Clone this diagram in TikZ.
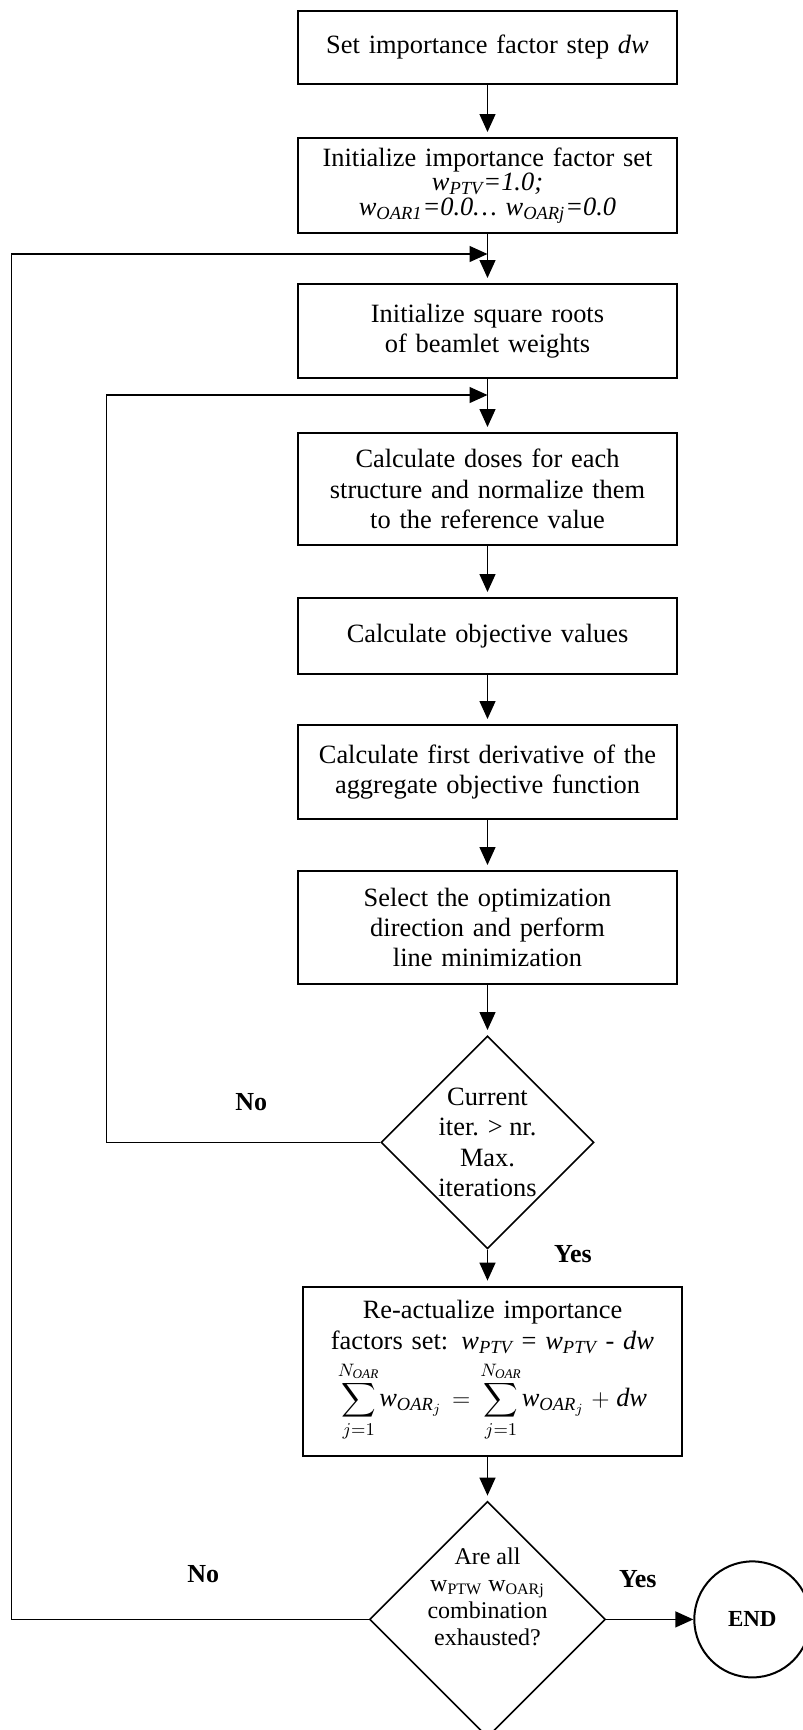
\documentclass[tikz,border=0pt]{standalone}
\usepackage{amsmath}
\usepackage{fontspec}
\setmainfont{Liberation Serif}
\usetikzlibrary{positioning,shapes,arrows.meta}
\tikzstyle{process}=[
	rectangle,
	draw=black,
	line width=1pt,
	text centered,
	align=center,
	text width=180pt,
	minimum width=189.5pt,
	inner sep=2pt,
	font=\fontsize{13.2}{15.2}\selectfont]
\tikzstyle{decision}=[
	diamond,
	draw=black,
	line width=0.8pt,
	aspect=1,
	inner sep=0pt]
\tikzstyle{qtext}=[
	align=center,
	inner sep=0pt,
	font=\fontsize{13.2}{15.2}\selectfont]
\tikzstyle{terminal}=[
	circle,
	draw=black,
	line width=1pt,
	minimum size=58pt,
	inner sep=0pt,
	font=\bfseries\fontsize{11.5}{13}\selectfont]
\tikzstyle{flow}=[line width=0.7pt,-{Triangle[width=8pt,length=9pt]}]
\tikzstyle{lbl}=[font=\bfseries\fontsize{13}{15}\selectfont]

\begin{document}
\begin{tikzpicture}[node distance=25pt]

		\useasboundingbox (0,0) rectangle (401.5pt,-865pt);

		\node (SetStep) [process, minimum height=36.5pt, anchor=north] at (243.75pt,-5pt) {
				Set importance factor step \textit{dw}
		};

		\node (InitFactors) [process, minimum height=47.5pt, below=26pt of SetStep] {
				Initialize importance factor set\\[-3pt]
				\textit{w\textsubscript{PTV}=1.0;}\\[-3pt]
				\textit{w\textsubscript{OAR1}=0.0\ldots\ w\textsubscript{OARj}=0.0}
		};

		\node (InitRoots) [process, minimum height=47pt, below=24.5pt of InitFactors] {
				Initialize square roots\\ of beamlet weights
		};

		\node (CalcDoses) [process, minimum height=56pt, below=26.5pt of InitRoots] {
				Calculate doses for each\\ structure and normalize them\\ to the reference value
		};

		\node (CalcObjective) [process, minimum height=38pt, below=25.5pt of CalcDoses] {
				Calculate objective values
		};

		\node (CalcDerivative) [process, minimum height=47pt, below=24.5pt of CalcObjective] {
				Calculate first derivative of the\\ aggregate objective function
		};

		\node (LineMin) [process, minimum height=56.5pt, below=25pt of CalcDerivative] {
				Select the optimization\\ direction and perform\\ line minimization
		};

		\node (MaxIter) [decision, minimum size=106.5pt, below=25pt of LineMin] {};
		\node (MaxIterText) [qtext] at (MaxIter.center) {
				Current\\ iter. > nr.\\ Max.\\ iterations
		};

		\node (Reactualize) [process, minimum height=84.5pt, below=18pt of MaxIter, xshift=2.5pt] {
				Re-actualize importance\\
				factors set: \textit{w\textsubscript{PTV}} = \textit{w\textsubscript{PTV}} - \textit{dw}\\[3pt]
				$\displaystyle\sum_{j=1}^{N_{\textit{OAR}}}\!\textit{w}_{\textit{OAR}_j}=\sum_{j=1}^{N_{\textit{OAR}}}\!\textit{w}_{\textit{OAR}_j}+\textit{dw}$
		};

		\node (AllExhausted) [decision, minimum size=118pt, below=22pt of Reactualize, xshift=-2.5pt] {};
		\node (AllExhaustedText) [qtext, font=\fontsize{12}{13.5}\selectfont] at ([yshift=11.5pt]AllExhausted.center) {
				Are all\\ w\textsubscript{PTW} w\textsubscript{OARj}\\ combination\\ exhausted?
		};

		\node (End) [terminal, right=43.5pt of AllExhausted] {END};

		\coordinate (LoopOuter) at ([yshift=-10pt]InitFactors.south);
		\coordinate (LoopInner) at ([yshift=-8pt]InitRoots.south);

		\draw[flow, shorten >=2.5pt] (SetStep) -- (InitFactors);
		\draw[flow, shorten >=2.5pt] (InitFactors) -- (InitRoots);
		\draw[flow, shorten >=2.5pt] (InitRoots) -- (CalcDoses);
		\draw[flow, shorten >=2.5pt] (CalcDoses) -- (CalcObjective);
		\draw[flow, shorten >=2.5pt] (CalcObjective) -- (CalcDerivative);
		\draw[flow, shorten >=2.5pt] (CalcDerivative) -- (LineMin);
		\draw[flow, shorten >=2.5pt] (LineMin) -- (MaxIter);
		\draw[flow, shorten >=2.5pt] (MaxIter.south) -- (MaxIter.south |- Reactualize.north);
		\draw[flow, shorten >=2.5pt] (Reactualize.south -| AllExhausted.north) -- (AllExhausted.north);
		\draw[flow] (AllExhausted) -- (End);

		\draw[flow] (MaxIter.west) -- ++(-137pt,0) |- (LoopInner);
		\draw[flow] (AllExhausted.west) -- ++(-178.75pt,0) |- (LoopOuter);

		\node (NoIter) [lbl] at ([xshift=-64.5pt,yshift=20pt]MaxIter.west) {No};
		\node (YesIter) [lbl] at ([xshift=42.75pt,yshift=-2pt]MaxIter.south) {Yes};
		\node (NoDone) [lbl] at ([xshift=-82.75pt,yshift=22.5pt]AllExhausted.west) {No};
		\node (YesDone) [lbl] at ([xshift=15.75pt,yshift=20pt]AllExhausted.east) {Yes};

\end{tikzpicture}
\end{document}
